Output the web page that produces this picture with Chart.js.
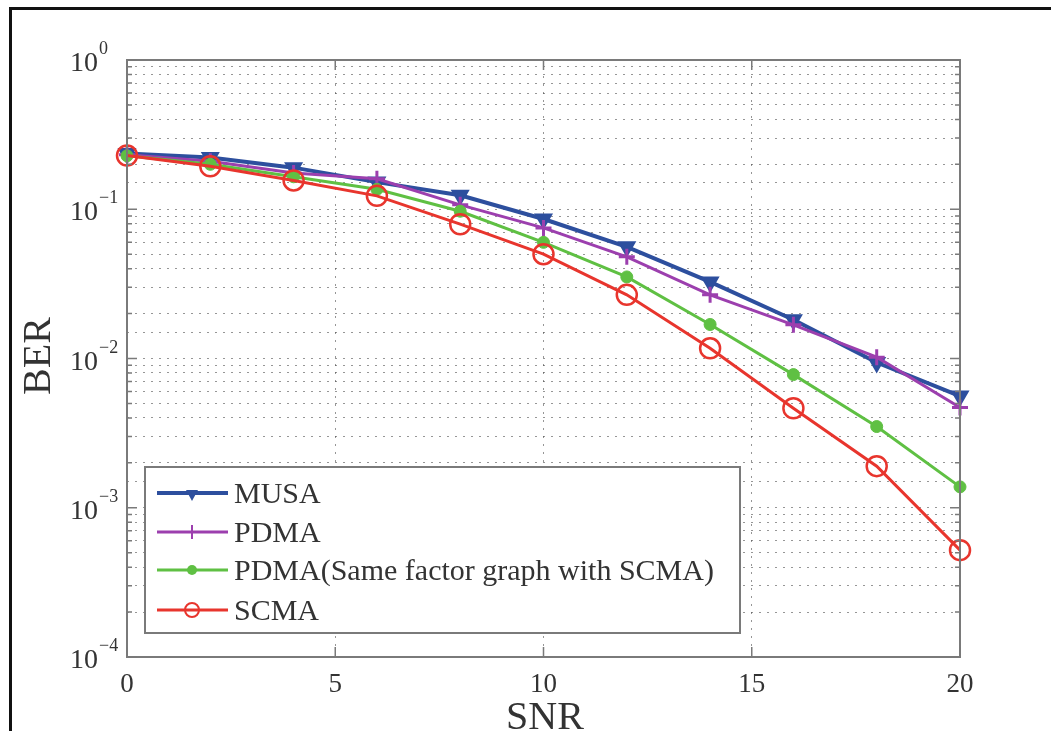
<!DOCTYPE html>
<html>
<head>
<meta charset="utf-8">
<script src="https://cdn.jsdelivr.net/npm/chart.js@4/dist/chart.umd.min.js"></script>
<style>
  body { margin: 0; background: #fff; }
  #wrap { position: relative; width: 1051px; height: 731px; overflow: hidden; }
  #frame { position: absolute; left: 9px; top: 7px; width: 1100px; height: 800px;
           border-left: 3px solid #111; border-top: 3px solid #111; }
  canvas { position: absolute; left: 0; top: 0; }
</style>
</head>
<body>
<div id="wrap">
  <div id="frame"></div>
  <canvas id="ber-chart" width="1051" height="731"></canvas>
</div>
<script>
// SNR points (dB)
const snr = [0, 2, 4, 6, 8, 10, 12, 14, 16, 18, 20];

// BER curves
const musa = [0.236, 0.222, 0.190, 0.152, 0.124, 0.086, 0.056, 0.0326, 0.0182, 0.0094, 0.0056];
const pdma = [0.232, 0.210, 0.175, 0.160, 0.107, 0.075, 0.048, 0.0267, 0.0168, 0.0102, 0.0047];
const pdmaScma = [0.228, 0.200, 0.165, 0.136, 0.097, 0.060, 0.0352, 0.0169, 0.0078, 0.0035, 0.00138];
const scma = [0.229, 0.194, 0.156, 0.123, 0.0794, 0.050, 0.0267, 0.0117, 0.00464, 0.0019, 0.00052];

const xTicks = [0, 5, 10, 15, 20];
const yDecades = [0, -1, -2, -3, -4];
const legendLabels = ['MUSA', 'PDMA', 'PDMA(Same factor graph with SCMA)', 'SCMA'];

const BLUE = '#2d4f9e', PURPLE = '#9c3fae', GREEN = '#5fc043', RED = '#e8352d';
const SERIF = '"Liberation Serif", "Times New Roman", serif';
const TXT = '#333';
const AXIS = '#7a7a7a';

const toPts = arr => arr.map((v, i) => ({ x: snr[i], y: v }));

// frame, inward ticks, labels, titles, legend
const matlabLook = {
  id: 'matlabLook',
  afterDraw(chart) {
    const { ctx, chartArea: a, scales: { x, y } } = chart;
    ctx.save();

    // box
    ctx.strokeStyle = AXIS;
    ctx.lineWidth = 2;
    ctx.strokeRect(a.left, a.top, a.right - a.left, a.bottom - a.top);

    // y ticks (major + minor) on both sides
    ctx.lineWidth = 1.5;
    yDecades.forEach(d => {
      for (let m = 1; m <= 9; m++) {
        if (d === 0 && m > 1) break;
        const py = y.getPixelForValue(m * Math.pow(10, d));
        const len = m === 1 ? 10 : 5;
        ctx.beginPath();
        ctx.moveTo(a.left, py); ctx.lineTo(a.left + len, py);
        ctx.moveTo(a.right, py); ctx.lineTo(a.right - len, py);
        ctx.stroke();
      }
    });
    // x ticks top + bottom
    xTicks.forEach(t => {
      const px = x.getPixelForValue(t);
      ctx.beginPath();
      ctx.moveTo(px, a.bottom); ctx.lineTo(px, a.bottom - 10);
      ctx.moveTo(px, a.top); ctx.lineTo(px, a.top + 10);
      ctx.stroke();
    });

    // x tick labels
    ctx.fillStyle = TXT;
    ctx.font = '27px ' + SERIF;
    ctx.textAlign = 'center';
    ctx.textBaseline = 'alphabetic';
    xTicks.forEach(t => ctx.fillText(String(t), x.getPixelForValue(t), 692));

    // y tick labels 10^d
    yDecades.forEach(d => {
      const py = y.getPixelForValue(Math.pow(10, d));
      ctx.font = '28px ' + SERIF;
      ctx.textAlign = 'right';
      ctx.fillText('10', 98, py + 11);
      ctx.font = '18px ' + SERIF;
      ctx.textAlign = 'left';
      ctx.fillText(d === 0 ? '0' : '\u2212' + (-d), 99, py - 6);
    });

    // axis titles
    ctx.font = '40px ' + SERIF;
    ctx.textAlign = 'center';
    ctx.fillText('SNR', 545, 729);
    ctx.save();
    ctx.translate(50, 356);
    ctx.rotate(-Math.PI / 2);
    ctx.font = '40px ' + SERIF;
    ctx.fillText('BER', 0, 0);
    ctx.restore();

    // legend
    const lx = 145, ly = 467, lw = 595, lh = 166;
    ctx.fillStyle = '#fff';
    ctx.fillRect(lx, ly, lw, lh);
    ctx.strokeStyle = AXIS;
    ctx.lineWidth = 2;
    ctx.strokeRect(lx, ly, lw, lh);
    const rows = [493, 532, 570, 610];
    chart.data.datasets.forEach((ds, i) => {
      const ry = rows[i];
      ctx.strokeStyle = ds.borderColor;
      ctx.lineWidth = ds.borderWidth;
      ctx.beginPath();
      ctx.moveTo(157, ry); ctx.lineTo(228, ry);
      ctx.stroke();
      const mx = 192;
      ctx.lineWidth = 2;
      ctx.fillStyle = ds.borderColor;
      if (i === 0) {
        ctx.beginPath();
        ctx.moveTo(mx - 6, ry - 3); ctx.lineTo(mx + 6, ry - 3); ctx.lineTo(mx, ry + 8);
        ctx.closePath(); ctx.fill();
      } else if (i === 1) {
        ctx.beginPath();
        ctx.moveTo(mx, ry - 7); ctx.lineTo(mx, ry + 7);
        ctx.stroke();
      } else if (i === 2) {
        ctx.beginPath(); ctx.arc(mx, ry, 5, 0, Math.PI * 2); ctx.fill();
      } else {
        ctx.beginPath(); ctx.arc(mx, ry, 7, 0, Math.PI * 2); ctx.stroke();
      }
      ctx.fillStyle = TXT;
      ctx.font = '30px ' + SERIF;
      ctx.textAlign = 'left';
      ctx.fillText(legendLabels[i], 234, ry + 10);
    });

    ctx.restore();
  }
};

new Chart(document.getElementById('ber-chart').getContext('2d'), {
  type: 'line',
  data: {
    datasets: [
      { label: legendLabels[0], data: toPts(musa), borderColor: BLUE, backgroundColor: BLUE,
        borderWidth: 4, pointStyle: 'triangle', pointRotation: 180, pointRadius: 9,
        pointBorderWidth: 2, order: 4, clip: false },
      { label: legendLabels[1], data: toPts(pdma), borderColor: PURPLE, backgroundColor: PURPLE,
        borderWidth: 3, pointStyle: 'cross', pointRadius: 8, pointBorderWidth: 3, order: 3, clip: false },
      { label: legendLabels[2], data: toPts(pdmaScma), borderColor: GREEN, backgroundColor: GREEN,
        borderWidth: 3, pointStyle: 'circle', pointRadius: 6, pointBorderWidth: 1, order: 2, clip: false },
      { label: legendLabels[3], data: toPts(scma), borderColor: RED, backgroundColor: 'rgba(255,255,255,0)',
        borderWidth: 3, pointStyle: 'circle', pointRadius: 10, pointBorderWidth: 2.5, order: 1, clip: false }
    ]
  },
  options: {
    responsive: false,
    animation: false,
    layout: { padding: { left: 127, right: 91, top: 60, bottom: 74 } },
    plugins: { legend: { display: false }, tooltip: { enabled: false } },
    scales: {
      x: {
        type: 'linear', min: 0, max: 20,
        ticks: { display: false, stepSize: 5 },
        grid: { color: 'rgba(80,80,80,0.6)', lineWidth: 1, drawTicks: false },
        border: { display: false, dash: [2, 6] }
      },
      y: {
        type: 'logarithmic', min: 1e-4, max: 1,
        ticks: { display: false },
        grid: { color: 'rgba(80,80,80,0.6)', lineWidth: 1, drawTicks: false },
        border: { display: false, dash: [2, 6] }
      }
    }
  },
  plugins: [matlabLook]
});
</script>
</body>
</html>
